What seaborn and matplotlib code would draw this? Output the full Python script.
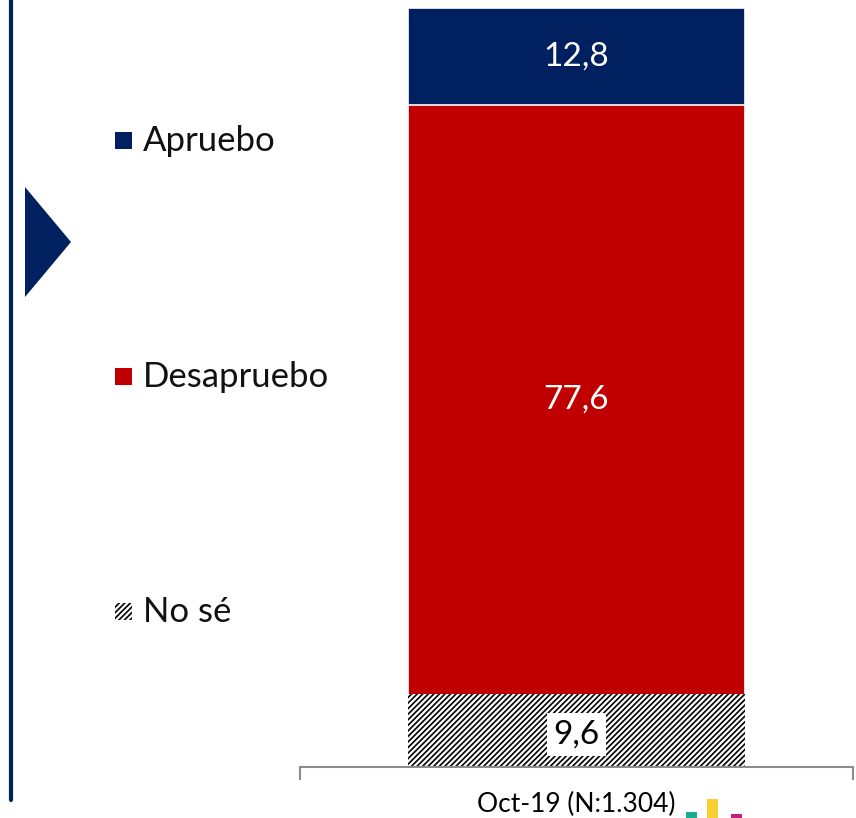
import matplotlib
matplotlib.use("Agg")
import matplotlib.pyplot as plt
import seaborn as sns
import pandas as pd
from matplotlib.patches import Rectangle, Polygon
from matplotlib.lines import Line2D

# data
categories = ["Oct-19 (N:1.304)"]
series = ["Apruebo", "Desapruebo", "No sé"]
apruebo = [12.8]
desapruebo = [77.6]
no_se = [9.6]

NAVY = "#002060"
RED = "#C00000"

sns.set_theme(style="white")
plt.rcParams["font.family"] = ["Lato", "DejaVu Sans"]
plt.rcParams["hatch.linewidth"] = 1.2

W, H = 856, 818
fig = plt.figure(figsize=(W / 100, H / 100), dpi=100)


def px(x, y):
    return (x / W, 1 - y / H)


ax = fig.add_axes([300 / W, (H - 767) / H, 553 / W, 759 / H])

df = pd.DataFrame({
    "periodo": categories,
    "Apruebo": apruebo,
    "Desapruebo": desapruebo,
    "No sé": no_se,
})
# cumulative tops, drawn back to front so the stack shows through
df["top_apr"] = df["No sé"] + df["Desapruebo"] + df["Apruebo"]
df["top_des"] = df["No sé"] + df["Desapruebo"]

sns.barplot(data=df, x="periodo", y="top_apr", color=NAVY, saturation=1,
            width=0.61, edgecolor="white", linewidth=1.2, ax=ax)
sns.barplot(data=df, x="periodo", y="top_des", color=RED, saturation=1,
            width=0.61, edgecolor="white", linewidth=1.2, ax=ax)
sns.barplot(data=df, x="periodo", y="No sé", color="white", saturation=1,
            width=0.61, edgecolor="black", linewidth=0, hatch="//////", ax=ax)

# value labels
for i, row in df.iterrows():
    ns, de, ap = row["No sé"], row["Desapruebo"], row["Apruebo"]
    ax.text(i, ns + de + ap / 2, f"{ap:.1f}".replace(".", ","), ha="center", va="center",
            color="white", fontsize=24)
    ax.text(i, ns + de / 2, f"{de:.1f}".replace(".", ","), ha="center", va="center",
            color="white", fontsize=24)
    ax.text(i, ns / 2 - 0.5, f"{ns:.1f}".replace(".", ","), ha="center", va="center",
            color="black", fontsize=24,
            bbox=dict(boxstyle="square,pad=0.2", fc="white", ec="none"))

ax.set_ylim(0, 100)
ax.set_xlim(-0.5, 0.5)
ax.set_xlabel("")
ax.set_ylabel("")
ax.set_yticks([])
ax.set_xticks([-0.5, 0.5])
ax.set_xticklabels(["", ""])
ax.tick_params(axis="x", direction="out", length=9, width=1.5, color="#8c8c8c", bottom=True)
for s in ["top", "left", "right"]:
    ax.spines[s].set_visible(False)
ax.spines["bottom"].set_color("#8c8c8c")
ax.spines["bottom"].set_linewidth(1.5)
ax.patch.set_alpha(0)
ax.text(0, -4.9, categories[0], ha="center", va="center", fontsize=19,
        color="black", clip_on=False)

# legend, spread down the left side
legend_y = [141, 377, 612]
for name, y in zip(series, legend_y):
    x0, y0 = px(115, y + 8)
    if name == "No sé":
        sq = Rectangle((x0, y0), 17 / W, 17 / H, transform=fig.transFigure,
                       facecolor="white", edgecolor="black", linewidth=0, hatch="//////")
    else:
        sq = Rectangle((x0, y0), 17 / W, 17 / H, transform=fig.transFigure,
                       facecolor=NAVY if name == "Apruebo" else RED, linewidth=0)
    fig.patches.append(sq)
    tx, ty = px(143, y)
    fig.text(tx, ty, name, ha="left", va="center", fontsize=25, color="#111111")

# left rule and arrow marker
fig.add_artist(Line2D([11 / W, 11 / W], [px(0, 0)[1], px(0, 800)[1]],
                      transform=fig.transFigure, color=NAVY, linewidth=3))
fig.patches.append(Polygon([px(25, 187), px(71, 242), px(25, 297)], closed=True,
                           transform=fig.transFigure, facecolor=NAVY, edgecolor="none"))

# small logo marks at the bottom edge
fig.patches.append(Rectangle(px(686, 818), 11 / W, 6 / H, transform=fig.transFigure,
                             facecolor="#19AE8E", edgecolor="none"))
fig.patches.append(Rectangle(px(707, 818), 11 / W, 19 / H, transform=fig.transFigure,
                             facecolor="#F9CF33", edgecolor="none"))
fig.patches.append(Rectangle(px(731, 818), 11 / W, 4 / H, transform=fig.transFigure,
                             facecolor="#C2207A", edgecolor="none"))

fig.savefig("out.png", dpi=100)
